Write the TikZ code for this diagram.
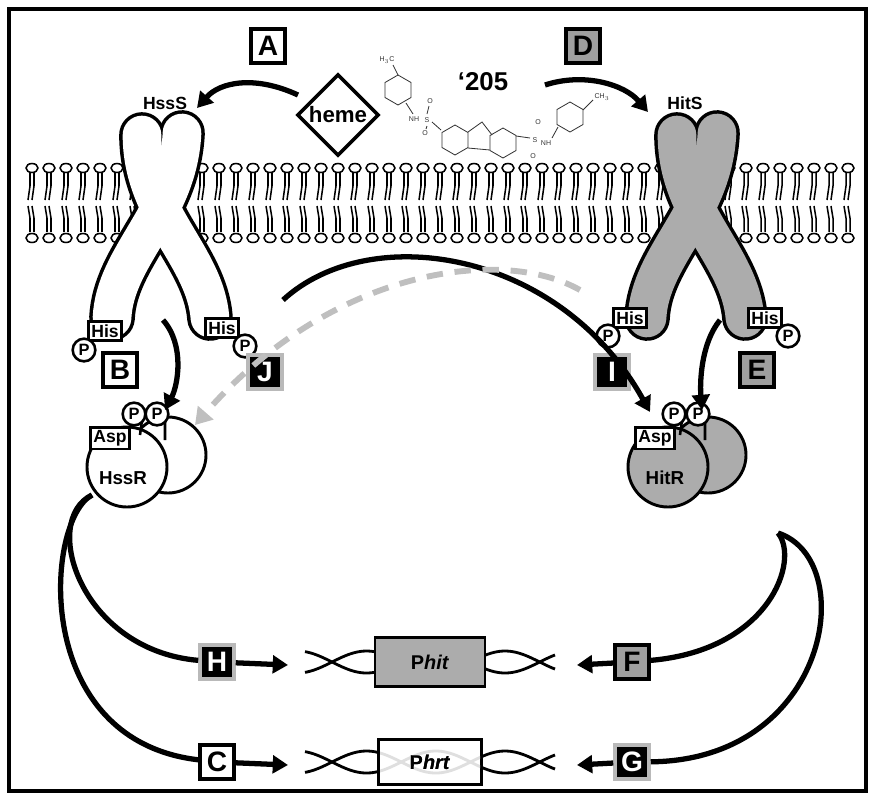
\documentclass[tikz,border=0pt]{standalone}
\usepackage{fontspec}
\setmainfont{Liberation Sans}
\usetikzlibrary{arrows.meta,shapes.geometric}
\tikzstyle{whiteBox} = [shape=rectangle, draw=black, fill=white, text=black,
	line width=3pt, minimum size=1.02cm, inner sep=0pt, font=\bfseries\fontsize{24}{24}\selectfont]
\tikzstyle{grayBox} = [whiteBox, fill=gray!75]
\tikzstyle{darkBox} = [whiteBox, fill=black, draw=gray!55, text=white]
\tikzstyle{hisBox} = [shape=rectangle, draw=black, fill=white, line width=2.2pt,
	inner sep=2.5pt, font=\bfseries\fontsize{15}{15}\selectfont]
\tikzstyle{phos} = [shape=circle, draw=black, fill=white, line width=2.2pt,
	inner sep=0pt, minimum size=0.68cm, font=\bfseries\fontsize{14}{14}\selectfont]
\tikzstyle{bigArrow} = [line width=4.5pt, -{Triangle[length=13pt,width=15pt]}]
\tikzstyle{strand} = [line width=2.4pt, black]
\begin{document}
\begin{tikzpicture}[x=0.03cm, y=-0.03cm]
  \useasboundingbox (0,0) rectangle (875,800);
  \draw[line width=3pt] (9,9) rectangle (866,791);
  % membrane
  \foreach \x in {32,49,...,850} {
    \draw[line width=1.3pt] (\x-2,172) -- (\x-2,186) -- (\x-4,200) (\x+2,172) -- (\x+2,186) -- (\x,200);
    \draw[line width=1.3pt] (\x-2,232) -- (\x-2,218) -- (\x-4,206) (\x+2,232) -- (\x+2,218) -- (\x,206);
    \draw[line width=1.3pt, fill=white] (\x,168) ellipse [x radius=6, y radius=4.5];
    \draw[line width=1.3pt, fill=white] (\x,238) ellipse [x radius=6, y radius=4.5];
  }
  % sensor kinases
  \foreach \cx/\col in {160/white, 695/gray!65} {
    \begin{scope}[xshift=(\cx-160)*0.03cm]
      \draw[line width=39pt, line cap=round] (142,135) .. controls (142,215) and (205,255) .. (210,318);
      \draw[line width=39pt, line cap=round] (182,133) .. controls (178,215) and (115,255) .. (112,318);
      \draw[line width=33pt, line cap=round, \col] (142,135) .. controls (142,215) and (205,255) .. (210,318);
      \draw[line width=33pt, line cap=round, \col] (182,133) .. controls (178,215) and (115,255) .. (112,318);
    \end{scope}
  }
  \node[font=\bfseries\fontsize{15}{15}\selectfont] (hssS) at (165,103) {HssS};
  \node[font=\bfseries\fontsize{15}{15}\selectfont] (hitS) at (685,103) {HitS};
  \node[hisBox] (his1) at (105,331) {His};
  \node[phos] (p1) at (84,350) {P};
  \node[hisBox] (his2) at (222,328) {His};
  \node[phos] (p2) at (245,346) {P};
  \node[hisBox] (his3) at (630,318) {His};
  \node[phos] (p3) at (608,336) {P};
  \node[hisBox] (his4) at (765,318) {His};
  \node[phos] (p4) at (788,336) {P};
  % heme and compound
  \node[diamond, draw, fill=white, line width=3pt, minimum size=2.45cm, inner sep=0pt,
    font=\bfseries\fontsize{19}{19}\selectfont] (heme) at (338,115) {heme};
  \node[font=\bfseries\fontsize{22}{22}\selectfont] (cmpd) at (483,82) {`205};
  \begin{scope}[black!80, line width=0.7pt, font=\fontsize{6}{6}\selectfont, inner sep=0.5pt]
    \draw (398,90) +(90:15) -- +(150:15) -- +(210:15) -- +(270:15) -- +(330:15) -- +(30:15) -- cycle;
    \node (ch3a) at (387,60) {H$_3$C};
    \draw (398,75) -- (393,65) (406,103) -- (413,114);
    \node (nh1) at (414,119) {NH};
    \node (s1) at (427,120) {S};
    \node at (430,101) {O}; \node at (425,133) {O};
    \draw (427,114) -- (429,106) (427,126) -- (426,129) (432,122) -- (441,130);
    \draw (455,140) +(90:15) -- +(150:15) -- +(210:15) -- +(270:15) -- +(330:15) -- +(30:15) -- cycle;
    \draw (468,132) -- (482,122) -- (492,135) (468,148) -- (490,150);
    \draw (503,143) +(90:15) -- +(150:15) -- +(210:15) -- +(270:15) -- +(330:15) -- +(30:15) -- cycle;
    \draw (516,136) -- (530,138);
    \node (s2) at (535,140) {S};
    \node at (538,122) {O}; \node at (533,156) {O};
    \node (nh2) at (546,143) {NH};
    \draw (552,138) -- (558,127);
    \draw (570,117) +(90:15) -- +(150:15) -- +(210:15) -- +(270:15) -- +(330:15) -- +(30:15) -- cycle;
    \draw (583,110) -- (593,100);
    \node (ch3b) at (602,97) {CH$_3$};
  \end{scope}
  % letters
  \node[whiteBox] (A) at (268,46) {A};
  \node[grayBox] (D) at (583,46) {D};
  \node[whiteBox] (B) at (120,370) {B};
  \node[grayBox] (E) at (757,370) {E};
  \node[darkBox] (J) at (265,372) {J};
  \node[darkBox] (I) at (612,372) {I};
  % response regulators
  \draw[line width=2.5pt, fill=white] (168,455) circle (38);
  \draw[line width=2.5pt, fill=white] (127,467) circle (40);
  \node[font=\bfseries\fontsize{16}{16}\selectfont] (hssR) at (123,478) {HssR};
  \draw[line width=2.2pt] (142,420) -- (140,435) (165,420) -- (165,440);
  \node[hisBox] (asp1) at (110,438) {Asp};
  \node[phos] (p5) at (134,414) {P};
  \node[phos] (p6) at (157,414) {P};
  \draw[line width=2.5pt, fill=gray!65] (708,455) circle (38);
  \draw[line width=2.5pt, fill=gray!65] (668,467) circle (40);
  \node[font=\bfseries\fontsize{16}{16}\selectfont] (hitR) at (665,478) {HitR};
  \draw[line width=2.2pt] (682,420) -- (680,435) (705,420) -- (705,440);
  \node[hisBox] (asp2) at (655,438) {Asp};
  \node[phos] (p7) at (674,414) {P};
  \node[phos] (p8) at (698,414) {P};
  % phosphotransfer arrows
  \coordinate (aA) at (298,95);   \coordinate (hA) at (197,108);
  \draw[bigArrow] (aA) .. controls (255,75) and (220,82) .. (hA);
  \coordinate (aD) at (545,85);   \coordinate (hD) at (648,112);
  \draw[bigArrow] (aD) .. controls (585,72) and (625,85) .. (hD);
  \coordinate (sB) at (163,320);  \coordinate (tB) at (165,410);
  \draw[bigArrow] (sB) .. controls (185,345) and (178,385) .. (tB);
  \coordinate (sE) at (720,320);  \coordinate (tE) at (702,410);
  \draw[bigArrow] (sE) .. controls (700,345) and (700,385) .. (tE);
  \coordinate (sI) at (283,300);  \coordinate (tI) at (650,412);
  \draw[bigArrow] (sI) .. controls (370,220) and (560,250) .. (tI);
  \coordinate (sJ) at (580,290);  \coordinate (tJ) at (195,425);
  \draw[line width=5pt, gray!50, dash pattern=on 14pt off 10pt, -{Triangle[length=14pt,width=17pt]}]
    (sJ) .. controls (500,245) and (330,270) .. (tJ);
  % DNA
  \foreach \yy in {662,762} {
    \draw[strand, domain=305:555, samples=100] plot (\x, {\yy+11*sin((\x-332)*2.6)});
    \draw[strand, domain=305:555, samples=100] plot (\x, {\yy-11*sin((\x-332)*2.6)});
  }
  \node[draw, line width=2.5pt, fill=gray!65, minimum width=3.3cm, minimum height=1.45cm,
    font=\bfseries\fontsize{17}{17}\selectfont] (phit) at (430,662) {P\textit{hit}};
  \node[draw, line width=2.5pt, fill=white, minimum width=3.1cm, minimum height=1.35cm,
    font=\bfseries\fontsize{17}{17}\selectfont] (phrt) at (430,762) {P\textit{hrt}};
  \begin{scope}
    \clip (380,742) rectangle (480,782);
    \draw[line width=2.4pt, gray!25, domain=375:485, samples=60] plot (\x, {762+11*sin((\x-332)*2.6)});
    \draw[line width=2.4pt, gray!25, domain=375:485, samples=60] plot (\x, {762-11*sin((\x-332)*2.6)});
  \end{scope}
  \node[font=\bfseries\fontsize{17}{17}\selectfont] at (phrt) {P\textit{hrt}};
  \node[darkBox] (H) at (217,662) {H};
  \node[grayBox] (F) at (632,662) {F};
  \node[whiteBox] (C) at (217,762) {C};
  \node[darkBox] (G) at (632,762) {G};
  % regulation curves
  \draw[line width=4.5pt] (92,495) .. controls (40,520) and (80,650) .. (H);
  \draw[line width=4.5pt] (92,495) .. controls (45,520) and (30,740) .. (C);
  \draw[bigArrow] (H) -- (288,665);
  \draw[bigArrow] (C) -- (288,765);
  \draw[line width=4.5pt] (778,533) .. controls (800,560) and (770,650) .. (F);
  \draw[line width=4.5pt] (778,533) .. controls (860,560) and (830,760) .. (G);
  \draw[bigArrow] (F) -- (577,665);
  \draw[bigArrow] (G) -- (577,765);
\end{tikzpicture}
\end{document}
